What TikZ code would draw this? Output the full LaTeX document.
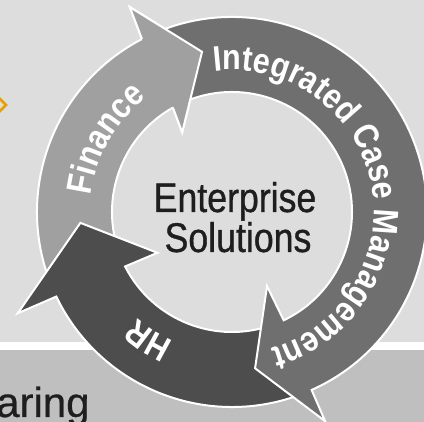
\documentclass[tikz,border=0pt]{standalone}
\usepackage{fontspec}
\setmainfont{Liberation Sans}[FakeStretch=0.86]
\newfontfamily\plainsans{Liberation Sans}[FakeBold=0.6]
\newfontfamily\centerfont{Liberation Sans}[FakeStretch=0.86, FakeBold=0.8]
\usetikzlibrary{calc,decorations.text}
\definecolor{bgc}{HTML}{DDDDDD}
\definecolor{bandc}{HTML}{BFBFBF}
\definecolor{finc}{HTML}{A0A0A0}
\definecolor{icmc}{HTML}{6F6F6F}
\definecolor{hrc}{HTML}{4D4D4D}
\definecolor{txtc}{HTML}{1E1E1E}
\definecolor{orangec}{HTML}{E8A000}
\newcommand\ringfont{\fontsize{35.5}{40}\selectfont\bfseries}
\tikzset{
  ringarrow/.style={draw=white, line width=2pt, line join=miter},
  ringtext/.style={decorate, decoration={text along path, text align=center, text color=white, text={#1}}},
  centertext/.style={font=\centerfont\fontsize{41.5}{48}\selectfont, text=txtc, inner sep=0pt, anchor=base},
}
\begin{document}
\begin{tikzpicture}[x=1pt,y=1pt]
\useasboundingbox (0,0) rectangle (424,422);
% background
\fill[bgc] (0,0) rectangle (424,422);
\fill[bandc] (0,0) rectangle (424,72);
\fill[white] (0,72) rectangle (424,80);
% orange partial diamond
\draw[orangec, line width=2.5pt] (-5,328) -- (6,317) -- (-5,306) -- (-16,317) -- cycle;
% partial text
\node[font=\plainsans\fontsize{42}{48}\selectfont, text=txtc, inner sep=0pt, anchor=base west] (share) at (-4,5) {aring};
\coordinate (C) at (232,210);
% Finance arrow
\path[ringarrow, fill=finc] ($(C)+(204:195)$) arc[start angle=204, end angle=117.5, radius=195]
  -- ($(C)+(116.5:229)$) -- ($(C)+(100.6:163)$) -- ($(C)+(122:94)$) -- ($(C)+(119.5:120)$)
  arc[start angle=119.5, end angle=204, radius=120] -- cycle;
% HR arrow
\path[ringarrow, fill=hrc] ($(C)+(-70:195)$) arc[start angle=-70, end angle=-154.3, radius=195]
  -- ($(C)+(-154.7:237)$) -- ($(C)+(-175.9:152)$) -- ($(C)+(-151.3:85)$) -- ($(C)+(-153:120)$)
  arc[start angle=-153, end angle=-70, radius=120] -- cycle;
% Integrated Case Management arrow
\path[ringarrow, fill=icmc] ($(C)+(112:195)$) arc[start angle=112, end angle=-65.9, radius=195]
  -- ($(C)+(-66:229)$) -- ($(C)+(-81.6:158)$) -- ($(C)+(-64.7:82)$) -- ($(C)+(-64.5:120)$)
  arc[start angle=-64.5, end angle=112, radius=120] -- cycle;
% Finance head on top
\fill[finc] ($(C)+(117.5:195)$) -- ($(C)+(116.5:229)$) -- ($(C)+(100.6:163)$) -- ($(C)+(122:94)$) -- ($(C)+(119.5:120)$) -- cycle;
\draw[white, line width=2pt, line join=miter] ($(C)+(117.5:195)$) -- ($(C)+(116.5:229)$) -- ($(C)+(100.6:163)$) -- ($(C)+(122:94)$) -- ($(C)+(119.5:120)$);
% ring labels
\path[ringtext={|\ringfont|Finance}] ($(C)+(180:142)$) arc[start angle=180, end angle=120, radius=142];
\path[ringtext={|\ringfont|Integrated Case Management}] ($(C)+(100:142)$) arc[start angle=100, end angle=-77, radius=142];
\path[ringtext={|\ringfont|HR}] ($(C)+(-100:142)$) arc[start angle=-100, end angle=-146, radius=142];
% centre text
\node[centertext] (ent) at (235,210) {Enterprise};
\node[centertext] (sol) at (238,170) {Solutions};
\end{tikzpicture}
\end{document}
